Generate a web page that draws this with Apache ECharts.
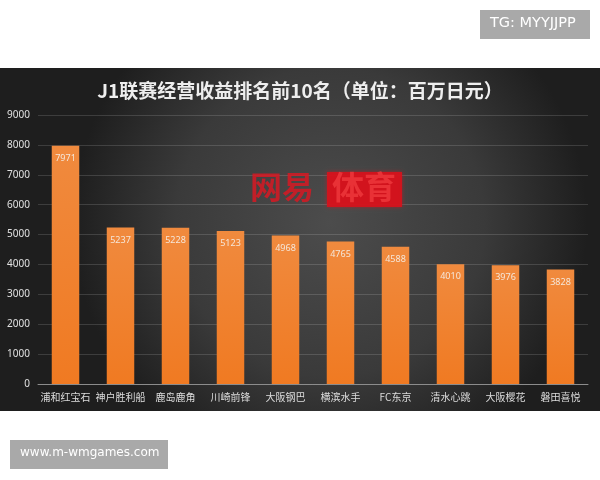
<!DOCTYPE html>
<html>
<head>
<meta charset="utf-8">
<script src="https://cdn.jsdelivr.net/npm/echarts@6/dist/echarts.min.js"></script>
<style>
  html, body { margin: 0; padding: 0; background: #ffffff; }
  #chart { width: 600px; height: 480px; }
</style>
</head>
<body>
<div id="chart"></div>
<script>
// J1 League clubs ranked by operating revenue (million yen)
const clubs = ['浦和红宝石', '神户胜利船', '鹿岛鹿角', '川崎前锋', '大阪钢巴', '横滨水手', 'FC东京', '清水心跳', '大阪樱花', '磐田喜悦'];
const revenue = [7971, 5237, 5228, 5123, 4968, 4765, 4588, 4010, 3976, 3828];
const yTicks = [0, 1000, 2000, 3000, 4000, 5000, 6000, 7000, 8000, 9000];

const chart = echarts.init(document.getElementById('chart'), null, { renderer: 'canvas' });

chart.setOption({
  backgroundColor: '#ffffff',
  animation: false,
  graphic: [
    // dark panel behind the plot
    {
      type: 'rect', z: -10, silent: true,
      shape: { x: 0, y: 68, width: 600, height: 343 },
      style: {
        fill: new echarts.graphic.RadialGradient(0.55, 0.45, 0.75, [
          { offset: 0, color: '#4c4c4c' },
          { offset: 0.6, color: '#3a3a3a' },
          { offset: 1, color: '#1e1e1e' }
        ])
      }
    },
    // brand mark over the plot
    {
      type: 'text', z: 5, silent: true, left: 250, top: 171,
      style: { text: '网易', fill: 'rgba(215,25,35,0.85)', font: 'bold 32px "Noto Sans CJK SC"', shadowBlur: 4, shadowColor: 'rgba(215,25,35,0.7)' }
    },
    {
      type: 'rect', z: 5, silent: true,
      shape: { x: 327, y: 172, width: 75, height: 35 },
      style: { fill: 'rgba(215,18,28,0.9)', shadowBlur: 4, shadowColor: 'rgba(215,18,28,0.7)' }
    },
    {
      type: 'text', z: 6, silent: true, left: 332, top: 171,
      style: { text: '体育', fill: 'rgba(255,80,80,0.5)', font: 'bold 32px "Noto Sans CJK SC"' }
    },
    // corner tags
    {
      type: 'rect', silent: true,
      shape: { x: 480, y: 10, width: 110, height: 29 },
      style: { fill: '#a9a9a9' }
    },
    {
      type: 'text', silent: true, left: 490, top: 16,
      style: { text: 'TG: MYYJJPP', fill: '#ffffff', font: '14.5px "DejaVu Sans"' }
    },
    {
      type: 'rect', silent: true,
      shape: { x: 10, y: 440, width: 158, height: 29 },
      style: { fill: '#a9a9a9' }
    },
    {
      type: 'text', silent: true, left: 20, top: 447,
      style: { text: 'www.m-wmgames.com', fill: '#ffffff', font: '12px "DejaVu Sans"' }
    }
  ],
  title: {
    text: 'J1联赛经营收益排名前10名（单位：百万日元）',
    left: 'center',
    top: 76,
    textStyle: { color: '#eeeeee', fontSize: 19, fontWeight: 'bold', fontFamily: '"Noto Sans CJK SC"' }
  },
  grid: { left: 38, right: 12, top: 115, bottom: 96, containLabel: false },
  xAxis: {
    type: 'category',
    data: clubs,
    axisLine: { lineStyle: { color: '#8c8c8c', width: 1 } },
    axisTick: { show: false },
    axisLabel: { color: '#dddddd', fontSize: 10, margin: 8, fontFamily: '"Noto Sans CJK SC"', interval: 0 }
  },
  yAxis: {
    type: 'value',
    min: yTicks[0],
    max: yTicks[yTicks.length - 1],
    interval: 1000,
    axisLine: { show: false },
    axisTick: { show: false },
    axisLabel: { color: '#e0e0e0', fontSize: 10, margin: 8, fontFamily: '"Noto Sans"', formatter: v => String(v) },
    splitLine: { lineStyle: { color: 'rgba(255,255,255,0.14)', width: 1 } }
  },
  series: [{
    type: 'bar',
    data: revenue,
    barWidth: '50%',
    itemStyle: {
      color: new echarts.graphic.LinearGradient(0, 0, 0, 1, [
        { offset: 0, color: '#f08a3e' },
        { offset: 1, color: '#f07a22' }
      ])
    },
    label: {
      show: true,
      position: 'insideTop',
      distance: 8,
      color: '#f5e6d8',
      fontSize: 9,
      fontFamily: '"Noto Sans"'
    }
  }]
});
</script>
</body>
</html>
